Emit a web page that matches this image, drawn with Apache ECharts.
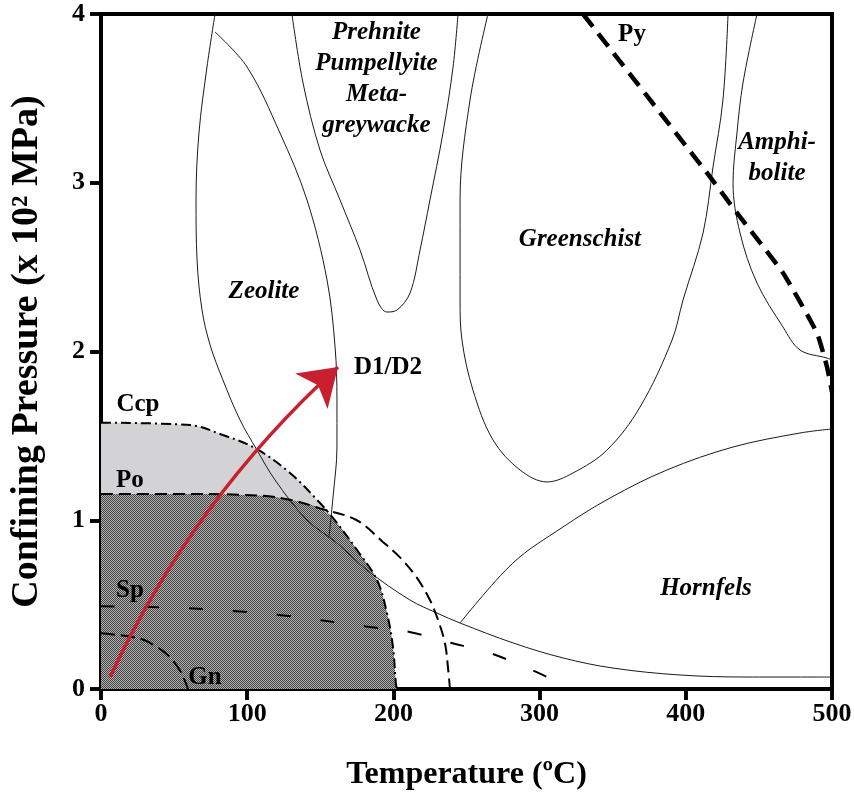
<!DOCTYPE html>
<html>
<head>
<meta charset="utf-8">
<script src="https://cdn.jsdelivr.net/npm/echarts@6/dist/echarts.min.js"></script>
<style>html,body{margin:0;padding:0;background:#fff;}#chart{width:854px;height:793px;}</style>
</head>
<body>
<div id="chart"></div>
<script>
// points are [temperature (oC), confining pressure (x 10^2 MPa)]
const ccpLine = [[0,1.578],[60.9,1.564],[83.4,1.505],[105.3,1.428],[129.3,1.28],[149.8,1.102],[161.4,0.984],[175.1,0.824],[188.8,0.646],[195.6,0.45],[199.7,0.249],[201.8,0.024],[202.5,0]];
const poLine = [[0,1.156],[60,1.156],[110,1.145],[130,1.12],[150,1.07],[175,1.0],[193,0.87],[204.5,0.78],[216,0.66],[225,0.527],[230.5,0.41],[235.3,0.27],[237.3,0.13],[238.7,0]];
const spLine = [[0,0.49],[56,0.48],[120,0.44],[184,0.367],[211,0.338],[236.7,0.279],[266,0.213],[298,0.10],[318.7,0.012],[321,0]];
const gnLine = [[0,0.33],[26,0.30],[38,0.25],[47,0.19],[54,0.11],[58,0.035],[59.5,0]];
const pyLine = [[329.7,4.0],[414.5,3.058],[435.0,2.821],[466.5,2.465],[489.7,2.110],[496.6,1.908],[500,1.76]];

// facies boundaries
const zeoliteOuter = [[78.0,4.0],[72.5,3.686],[67.0,3.295],[65.0,2.898],[65.7,2.542],[69.1,2.246],[74.6,2.039],[83.4,1.831],[95.1,1.594],[106.7,1.416],[119.0,1.239],[140.9,1.001],[161.4,0.865],[181.9,0.705],[211.4,0.527],[229.8,0.45],[245.6,0.391],[281.8,0.273],[316.0,0.184],[350.2,0.124],[396.0,0.083],[441.9,0.071],[500,0.071]];
const zeoliteInner = [[78.0,3.893],[99.9,3.686],[122.4,3.295],[140.9,2.898],[154.6,2.424],[160.1,2.027],[161.4,1.713],[161.4,1.434],[158.7,1.138],[155.9,0.895]];
const prehniteV = [[130.6,4.0],[138.2,3.591],[149.8,3.194],[163.5,2.898],[177.2,2.601],[188.8,2.305],[195.6,2.234],[202.5,2.246],[211.4,2.347],[218.2,2.601],[225.0,2.898],[233.9,3.295],[240.8,3.686],[244.2,4.0]];
const greenschist = [[264.7,4.0],[252.4,3.49],[245.6,2.898],[245.6,2.305],[246.9,2.068],[254.4,1.772],[268.1,1.476],[286.6,1.298],[305.1,1.227],[322.8,1.28],[346.1,1.416],[368.7,1.671],[390.6,2.068],[398.1,2.305],[411.8,2.702],[418.6,3.093],[425.4,3.49],[428.9,4.0]];
const amphibolite = [[448.7,4.0],[439.1,3.591],[435.0,3.295],[432.3,2.999],[437.1,2.702],[448.7,2.406],[466.5,2.145],[478.1,2.009],[496.6,1.961],[500,1.95]];
const hornfels = [[245.6,0.391],[281.8,0.747],[316.0,0.96],[348.2,1.132],[387.1,1.298],[432.3,1.434],[478.1,1.517],[500,1.541]];

// D1/D2 path
const arrowPath = [[6.2,0.071],[162.1,1.908]];

const xTicks = [0,100,200,300,400,500];
const yTicks = [0,1,2,3,4];

const faciesLabels = [
  ['Zeolite',111.5,2.353],
  ['Prehnite\nPumpellyite\nMeta-\ngreywacke',188.4,3.615],
  ['Greenschist',327.6,2.661],
  ['Amphi-\nbolite',462.4,3.147],
  ['Hornfels',413.8,0.593]
];
const mineralLabels = [
  ['Ccp',25.3,1.683],
  ['Po',19.8,1.233],
  ['Sp',19.8,0.581],
  ['Gn',71.1,0.065],
  ['Py',363.2,3.876],
  ['D1/D2',196.3,1.902]
];

const serif = "'Liberation Serif','Times New Roman',serif";

// fine checker fill for the Po field
const hatch = document.createElement('canvas');
hatch.width = 2; hatch.height = 2;
const hc = hatch.getContext('2d');
hc.fillStyle = '#b2b2b2'; hc.fillRect(0,0,2,2);
hc.fillStyle = '#444444'; hc.fillRect(0,0,1,1); hc.fillRect(1,1,1,1);

const cut = 151.8;
const darkEdge = poLine.filter(p => p[0] < cut).concat(ccpLine.filter(p => p[0] > cut));

function curve(data, lineStyle, z, smooth) {
  return {type:'line', data, smooth: smooth == null ? 0.35 : smooth, symbol:'none', silent:true, lineStyle, z: z || 3};
}
function fill(data, color) {
  return {type:'line', data, smooth:0.35, symbol:'none', silent:true, lineStyle:{width:0}, areaStyle:{color, opacity:1}, z:1};
}
function labels(items, style) {
  return {
    type:'scatter', symbolSize:0, silent:true, z:6,
    itemStyle:{opacity:1},
    data: items.map(d => ({value:[d[1], d[2]], name:d[0]})),
    label: Object.assign({show:true, position:'inside', formatter: p => p.name, color:'#000', opacity:1,
      textBorderWidth:0, fontFamily:serif, fontWeight:'bold'}, style)
  };
}

const thin = {color:'#1a1a1a', width:1};
const tickLen = 0.065;   // tick stub length in pressure units (below the T axis)
const tickLenT = 7.5;    // tick stub length in temperature units (left of the P axis)

const chart = echarts.init(document.getElementById('chart'), null, {renderer:'canvas'});
chart.setOption({
  animation:false,
  backgroundColor:'#fff',
  grid:{left:101, right:22, top:14, bottom:104, show:true, borderColor:'#000', borderWidth:4, backgroundColor:'transparent', outerBoundsMode:'none'},
  xAxis:{
    type:'value', min:0, max:500, interval:100,
    name:'Temperature (ºC)', nameLocation:'middle', nameGap:70,
    nameTextStyle:{fontFamily:serif, fontWeight:'bold', fontSize:32, color:'#000'},
    axisLine:{show:true, onZero:false, lineStyle:{color:'#000', width:3.5}},
    axisTick:{show:true, inside:false, length:11, lineStyle:{color:'#000', width:3.5, opacity:1}},
    axisLabel:{color:'#000', fontFamily:serif, fontWeight:'bold', fontSize:26, margin:12, formatter: v => xTicks.includes(v) ? String(v) : ''},
    splitLine:{show:false}
  },
  yAxis:{
    type:'value', min:0, max:4, interval:1,
    name:'Confining Pressure (x 10² MPa)', nameLocation:'middle', nameGap:55,
    nameTextStyle:{fontFamily:serif, fontWeight:'bold', fontSize:38, color:'#000'},
    axisLine:{show:true, onZero:false, lineStyle:{color:'#000', width:3.5}},
    axisTick:{show:true, inside:false, length:11, lineStyle:{color:'#000', width:3.5, opacity:1}},
    axisLabel:{color:'#000', fontFamily:serif, fontWeight:'bold', fontSize:26, margin:16, formatter: v => yTicks.includes(v) ? String(v) : ''},
    splitLine:{show:false}
  },
  series:[
    fill(ccpLine, '#d3d3d5'),
    fill(darkEdge, {image:hatch, repeat:'repeat'}),
    curve(zeoliteOuter, thin),
    curve(zeoliteInner, thin),
    curve(prehniteV, thin),
    curve(greenschist, thin),
    curve(amphibolite, thin),
    curve(hornfels, thin),
    curve(ccpLine, {color:'#000', width:2, type:[10,4,2,4]}, 4),
    curve(poLine, {color:'#000', width:2, type:[12,6]}, 4),
    curve(spLine, {color:'#000', width:2, type:[14,30]}, 4),
    curve(gnLine, {color:'#000', width:2, type:[14,6]}, 4),
    curve(pyLine, {color:'#000', width:4.5, type:[16,9]}, 4, 0.15),
    {
      type:'lines', coordinateSystem:'cartesian2d', silent:true, z:5,
      symbol:['none','arrow'], symbolSize:[32,36],
      lineStyle:{color:'#c8202e', width:3.5, curveness:0.1, opacity:1},
      data:[{coords:arrowPath}]
    },
    // outward tick stubs drawn in data space, outside the plot frame
    {
      type:'lines', coordinateSystem:'cartesian2d', silent:true, z:20, clip:false,
      lineStyle:{color:'#000', width:3.5, opacity:1, curveness:0},
      data: xTicks.map(v => ({coords:[[v, 0], [v, -tickLen]]}))
        .concat(yTicks.map(v => ({coords:[[0, v], [-tickLenT, v]]})))
    },
    labels(faciesLabels, {fontStyle:'italic', fontSize:25, lineHeight:31}),
    labels(mineralLabels, {fontSize:25})
  ]
});
</script>
</body>
</html>
